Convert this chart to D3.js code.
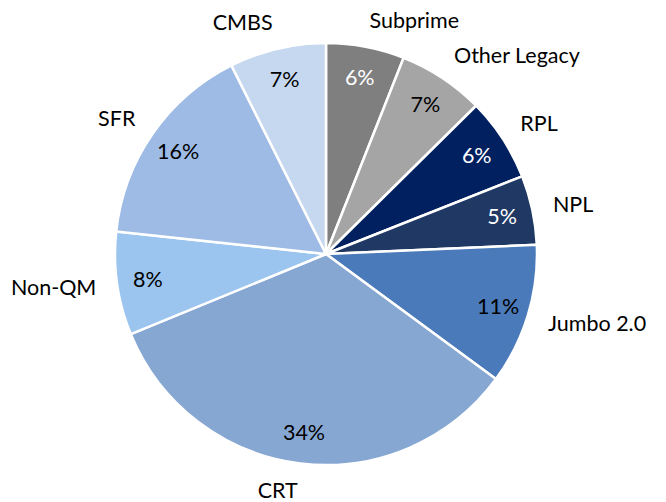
<!DOCTYPE html>
<html>
<head>
<meta charset="utf-8">
<style>
  body { margin: 0; background: #fff; }
  text { font-family: Lato, "Open Sans", sans-serif; }
</style>
</head>
<body>
<svg id="container" width="666" height="502"></svg>

<script src="https://d3js.org/d3.v7.min.js"></script>
<script>
  // categories in clockwise order starting at 12 o'clock
  const categories = ['Subprime', 'Other Legacy', 'RPL', 'NPL', 'Jumbo 2.0', 'CRT', 'Non-QM', 'SFR', 'CMBS']
  // share of portfolio, %
  const shares = [6.0, 6.6, 6.4, 5.3, 10.8, 33.7, 7.9, 15.9, 7.4]
  const colors = ['#7f7f7f', '#a5a5a5', '#002060', '#1f3864', '#4a7ab9', '#87a7d3', '#9bc5ee', '#9dbbe5', '#c6d8f0']
  const textColors = ['#fff', '#000', '#fff', '#fff', '#000', '#000', '#000', '#000', '#000']

  const data = categories.map((c, i) => ({ name: c, value: shares[i], color: colors[i], ink: textColors[i] }))

  const cx = 326, cy = 254, r = 211

  const svg = d3.select('#container')
  const g = svg.append('g').attr('transform', `translate(${cx},${cy})`)

  const pie = d3.pie().value(d => d.value).sort(null)
  const arcs = pie(data)

  const arc = d3.arc().innerRadius(0).outerRadius(r)
  const inner = d3.arc().innerRadius(180).outerRadius(180)

  g.selectAll('path')
    .data(arcs)
    .enter()
    .append('path')
    .attr('d', arc)
    .attr('fill', d => d.data.color)
    .attr('stroke', '#fff')
    .attr('stroke-width', 2.5)
    .attr('stroke-linejoin', 'round')

  // percentage labels inside the slices
  g.selectAll('text.pct')
    .data(arcs)
    .enter()
    .append('text')
    .attr('class', 'pct')
    .attr('x', d => inner.centroid(d)[0])
    .attr('y', d => inner.centroid(d)[1])
    .attr('dy', '0.36em')
    .attr('text-anchor', 'middle')
    .style('font-size', '21.5px')
    .style('fill', d => d.data.ink)
    .text(d => Math.round(d.data.value) + '%')

  // category labels outside the pie
  const R = 232, h = 12
  g.selectAll('text.cat')
    .data(arcs)
    .enter()
    .append('text')
    .attr('class', 'cat')
    .each(function (d) {
      const a = (d.startAngle + d.endAngle) / 2
      const x = R * Math.sin(a)
      const y = -R * Math.cos(a) - Math.cos(a) * h / 2
      d3.select(this)
        .attr('x', x)
        .attr('y', y)
        .attr('dy', '0.35em')
        .attr('text-anchor', Math.sin(a) >= 0 ? 'start' : 'end')
    })
    .style('font-size', '21.5px')
    .style('fill', '#000')
    .text(d => d.data.name)
</script>
</body>
</html>
